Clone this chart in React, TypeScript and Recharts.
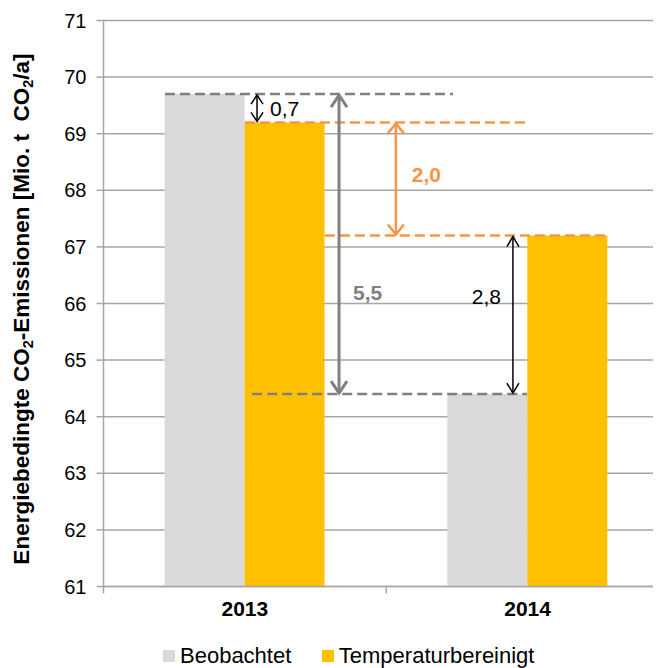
import {
  BarChart,
  Bar,
  XAxis,
  YAxis,
  CartesianGrid,
  Legend,
  ReferenceLine,
} from "recharts";

const categories = ["2013", "2014"];
const beobachtet = [69.7, 64.4];
const temperaturbereinigt = [69.2, 67.2];
const yTicks = [61, 62, 63, 64, 65, 66, 67, 68, 69, 70, 71];
const differenzen = [0.7, 2.0, 5.5, 2.8];

const data = categories.map((year, i) => ({
  year,
  Beobachtet: beobachtet[i],
  Temperaturbereinigt: temperaturbereinigt[i],
}));

const GREY_BAR = "#D9D9D9";
const YELLOW = "#FFC000";
const GREY = "#808080";
const ORANGE = "#F79646";
const AXIS = "#a6a6a6";
const FONT = "'Liberation Sans', Arial, sans-serif";

const CHART_W = 661;
const Y_AXIS_W = 95.5;
const BAND = (CHART_W - Y_AXIS_W) / categories.length;

const fmt = (v: number) => v.toFixed(1).replace(".", ",");

// x positions in category units (0 = left edge of 2013, 1 = boundary, 2 = right edge of 2014)
const guides = [
  { y: beobachtet[0], from: 0.2175, to: 1.236, color: GREY },
  { y: temperaturbereinigt[0], from: 0.5, to: 1.505, color: ORANGE },
  { y: temperaturbereinigt[1], from: 0.783, to: 1.785, color: ORANGE },
  { y: beobachtet[1], from: 0.526, to: 1.498, color: GREY },
];

const arrows = [
  { x: 0.543, a: beobachtet[0], b: temperaturbereinigt[0], label: differenzen[0], color: "#000", w: 1.5, head: 6, len: 9, dx: 13, dy: 0, bold: false, anchor: "start" },
  { x: 1.034, a: temperaturbereinigt[0], b: temperaturbereinigt[1], label: differenzen[1], color: ORANGE, w: 2.5, head: 8, len: 10, dx: 16, dy: -4, bold: true, anchor: "start" },
  { x: 0.833, a: beobachtet[0], b: beobachtet[1], label: differenzen[2], color: GREY, w: 3, head: 8, len: 12, dx: 14, dy: 48, bold: true, anchor: "start" },
  { x: 1.448, a: temperaturbereinigt[1], b: beobachtet[1], label: differenzen[3], color: "#000", w: 1.5, head: 6, len: 10, dx: -12, dy: -18, bold: false, anchor: "end" },
];

// segment x is the centre of the 2013 band (u = 0.5)
const toX = (center: number, u: number) => center + (u - 0.5) * BAND;

const guideShape = (g: (typeof guides)[number]) => (p: any) => (
  <line
    x1={toX(p.x1, g.from)}
    x2={toX(p.x1, g.to)}
    y1={p.y1}
    y2={p.y1}
    stroke={g.color}
    strokeWidth={2.5}
    strokeDasharray="10 5"
  />
);

const arrowShape = (a: (typeof arrows)[number]) => (p: any) => {
  const x = toX(p.x1, a.x);
  const top = Math.min(p.y1, p.y2) + 1;
  const bottom = Math.max(p.y1, p.y2) - 1;
  return (
    <g>
      <line x1={x} y1={top} x2={x} y2={bottom} stroke={a.color} strokeWidth={a.w} />
      <polyline
        points={`${x - a.head},${top + a.len} ${x},${top} ${x + a.head},${top + a.len}`}
        fill="none"
        stroke={a.color}
        strokeWidth={a.w}
      />
      <polyline
        points={`${x - a.head},${bottom - a.len} ${x},${bottom} ${x + a.head},${bottom - a.len}`}
        fill="none"
        stroke={a.color}
        strokeWidth={a.w}
      />
      <text
        x={x + a.dx}
        y={(top + bottom) / 2 + a.dy}
        textAnchor={a.anchor}
        dominantBaseline="central"
        fontSize={21}
        fontWeight={a.bold ? "bold" : "normal"}
        fill={a.color}
        fontFamily={FONT}
      >
        {fmt(a.label)}
      </text>
    </g>
  );
};

// Excel style: tick marks sit on the category boundaries
const CategoryTick = (props: any) => {
  const { x, y, payload, index } = props;
  const half = payload?.offset ?? BAND / 2;
  const y0 = y - 8;
  return (
    <g>
      <line x1={x - half} x2={x - half} y1={y0} y2={y0 + 7} stroke={AXIS} strokeWidth={1.5} />
      {index === categories.length - 1 && (
        <line x1={x + half} x2={x + half} y1={y0} y2={y0 + 7} stroke={AXIS} strokeWidth={1.5} />
      )}
      <text
        x={x}
        y={y0 + 15}
        dy="0.71em"
        textAnchor="middle"
        fontSize={21}
        fontWeight="bold"
        fill="#000"
        fontFamily={FONT}
      >
        {payload.value}
      </text>
    </g>
  );
};

const YLabel = (props: any) => {
  const vb = props.viewBox || { x: 0, y: 12.5, width: Y_AXIS_W, height: 566 };
  const x = vb.x + 20.5;
  const y = vb.y + vb.height / 2 + 5.5;
  return (
    <text
      transform={`rotate(-90, ${x}, ${y})`}
      x={x}
      y={y}
      textAnchor="middle"
      fontSize={22.5}
      fontWeight="bold"
      fill="#000"
      fontFamily={FONT}
    >
      <tspan>Energiebedingte CO</tspan>
      <tspan fontSize={14.5} dy={4}>2</tspan>
      <tspan dy={-4}>-Emissionen [Mio. t{"\u00a0"} CO</tspan>
      <tspan fontSize={14.5} dy={4}>2</tspan>
      <tspan dy={-4}>/a]</tspan>
    </text>
  );
};

const renderLegend = ({ payload }: any) => (
  <div
    style={{
      display: "flex",
      alignItems: "flex-start",
      height: 31.5,
      boxSizing: "border-box",
      paddingTop: 7,
      paddingLeft: 155,
      fontSize: 22,
      lineHeight: "24px",
      fontFamily: FONT,
      color: "#000",
    }}
  >
    {(payload || []).map((e: any) => (
      <span key={e.value} style={{ display: "flex", alignItems: "center", marginRight: 30.5 }}>
        <span
          style={{
            width: 12,
            height: 12,
            background: e.color,
            marginRight: 5,
            display: "inline-block",
          }}
        />
        {e.value}
      </span>
    ))}
  </div>
);

export default function App() {
  return (
    <div style={{ width: 653, height: 660, overflow: "hidden", fontFamily: FONT }}>
      <BarChart
        width={CHART_W}
        height={660}
        data={data}
        margin={{ top: 12.5, right: 0, bottom: 0, left: 0 }}
        barCategoryGap="21.6%"
        barGap={0}
      >
        <CartesianGrid vertical={false} stroke={AXIS} strokeWidth={1.5} />
        <XAxis
          dataKey="year"
          height={50}
          tickLine={false}
          tickSize={0}
          tickMargin={8}
          axisLine={{ stroke: AXIS, strokeWidth: 1.5 }}
          tick={<CategoryTick />}
        />
        <YAxis
          width={Y_AXIS_W}
          domain={[61, 71]}
          ticks={yTicks}
          allowDataOverflow
          tickSize={7}
          tickMargin={10}
          axisLine={{ stroke: AXIS, strokeWidth: 1.5 }}
          tickLine={{ stroke: AXIS, strokeWidth: 1.5 }}
          tick={{ fontSize: 20, fill: "#000", fontFamily: FONT }}
          label={{ content: YLabel }}
        />
        <Legend verticalAlign="bottom" align="left" height={31.5} content={renderLegend} />
        <Bar dataKey="Beobachtet" fill={GREY_BAR} isAnimationActive={false} />
        <Bar dataKey="Temperaturbereinigt" fill={YELLOW} isAnimationActive={false} />
        {guides.map((g, i) => (
          <ReferenceLine
            key={`g${i}`}
            segment={[
              { x: categories[0], y: g.y },
              { x: categories[0], y: g.y },
            ]}
            stroke={g.color}
            ifOverflow="visible"
            shape={guideShape(g)}
          />
        ))}
        {arrows.map((a, i) => (
          <ReferenceLine
            key={`a${i}`}
            segment={[
              { x: categories[0], y: a.a },
              { x: categories[0], y: a.b },
            ]}
            stroke={a.color}
            ifOverflow="visible"
            shape={arrowShape(a)}
          />
        ))}
      </BarChart>
    </div>
  );
}
